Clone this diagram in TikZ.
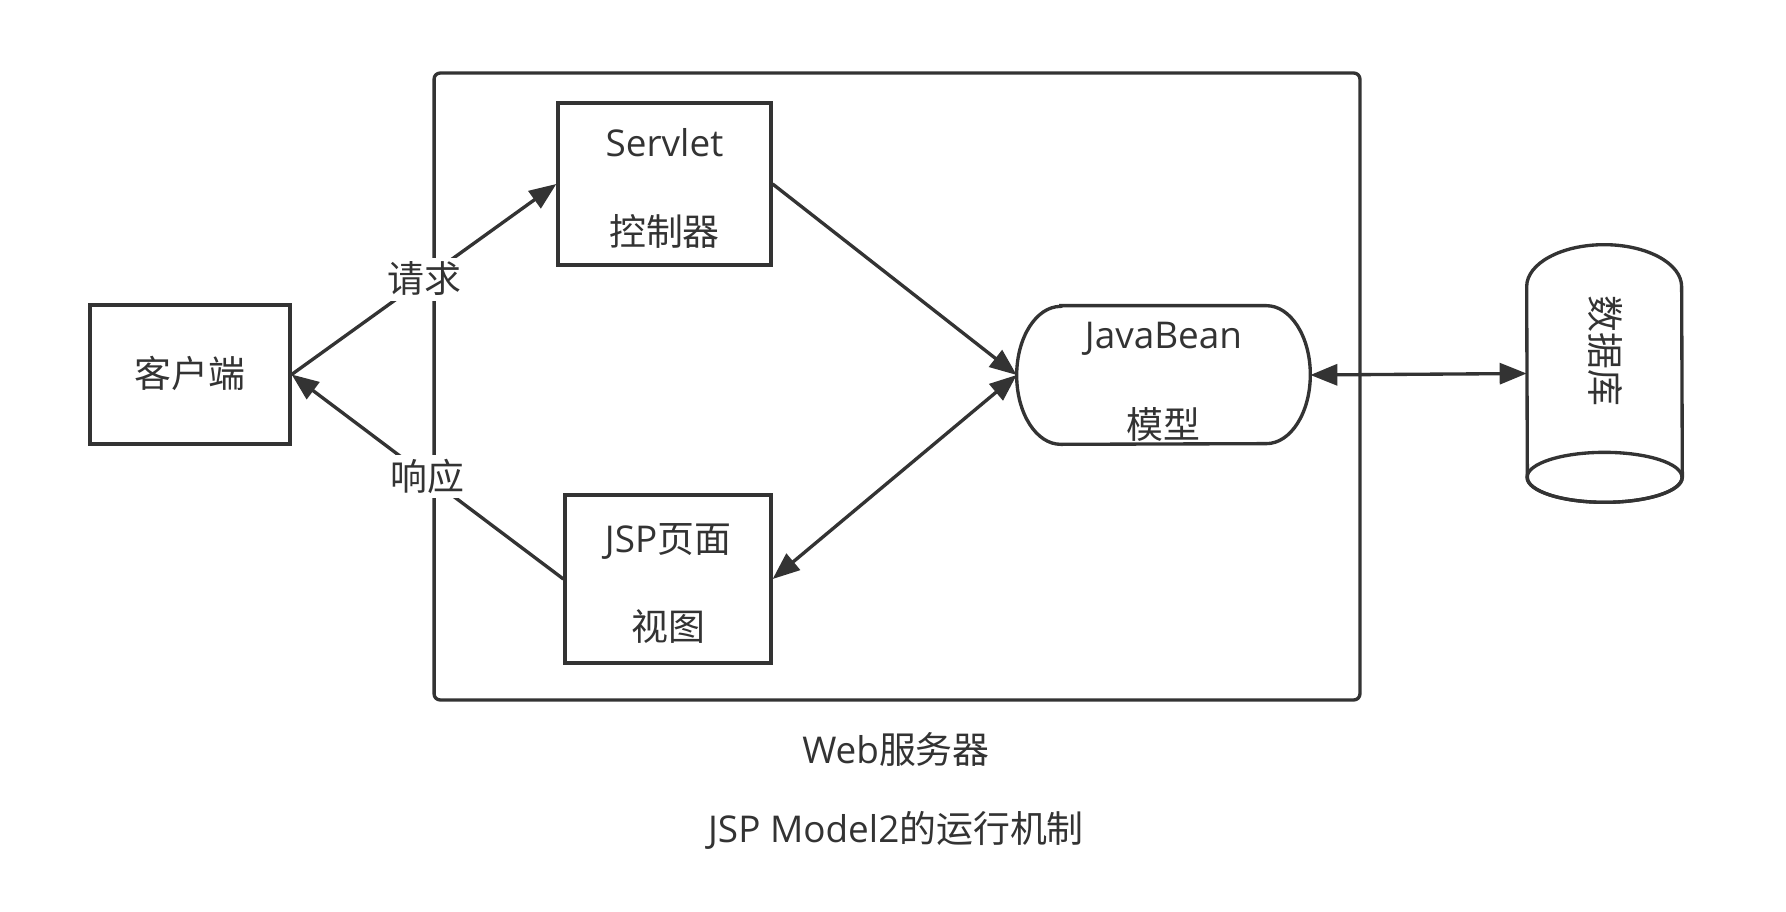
\documentclass[tikz,border=0pt]{standalone}
\usepackage{fontspec}
\setmainfont{Open Sans}
\newfontfamily\cjk{Noto Sans CJK SC}
\usetikzlibrary{positioning, arrows.meta}

\definecolor{linea}{HTML}{333333}

\tikzset{
    box/.style={draw=linea, line width=1.9pt, fill=white, inner sep=0pt},
    txt/.style={text=linea, font=\fontsize{21}{25}\selectfont, inner sep=0pt, text height=0.7cm, text depth=0.16cm},
    etichetta/.style={txt, fill=white, inner xsep=2pt},
    freccia/.style={draw=linea, line width=1.9pt, >={Triangle[length=0.54cm, width=0.42cm]}, ->}
}

\begin{document}
\begin{tikzpicture}[x=0.02cm, y=-0.02cm]
    \useasboundingbox[fill=white] (0,0) rectangle (1786,912);

    % contenitore del server
    \node [box, rounded corners=0.12cm, minimum width=18.52cm, minimum height=12.54cm] (web) at (897,386.5) {};

    \node [box, txt, minimum width=4cm, minimum height=2.78cm] (client) at (190,374.5) {\cjk 客户端};

    \node [box, minimum width=4.26cm, minimum height=3.24cm] (srv) at (664.5,184) {};
    \node [txt] (srvA) at (664.5,143) {Servlet};
    \node [txt, below=0.9cm of srvA] (srvB) {\cjk 控制器};

    \node [box, minimum width=4.12cm, minimum height=3.36cm] (jsp) at (668,579) {};
    \node [txt] (jspA) at (668,539) {JSP{\cjk 页面}};
    \node [txt, below=0.88cm of jspA] (jspB) {\cjk 视图};

    % JavaBean con i lati curvi
    \node [minimum width=5.86cm, minimum height=2.76cm, inner sep=0pt] (bean) at (1163.5,375) {};
    \draw [draw=linea, line width=1.9pt, fill=white]
        ([xshift=0.88cm]bean.north west) -- ([xshift=-0.88cm]bean.north east)
        arc[start angle=90, end angle=-90, x radius=0.88cm, y radius=1.38cm]
        -- ([xshift=0.88cm]bean.south west)
        arc[start angle=270, end angle=90, x radius=0.88cm, y radius=1.38cm] -- cycle;
    \node [txt] (beanA) at (1163.5,335) {JavaBean};
    \node [txt, below=0.92cm of beanA] (beanB) {\cjk 模型};

    % cilindro del database
    \node [minimum width=3.1cm, minimum height=5.14cm, inner sep=0pt] (db) at (1604.5,373.5) {};
    \draw [draw=linea, line width=1.9pt, fill=white]
        ([yshift=-0.84cm]db.north west)
        arc[start angle=180, end angle=0, x radius=1.55cm, y radius=0.84cm]
        -- ([yshift=0.5cm]db.south east)
        arc[start angle=0, end angle=-180, x radius=1.55cm, y radius=0.5cm] -- cycle;
    \draw [draw=linea, line width=1.9pt] ([yshift=0.5cm]db.south) ellipse[x radius=1.55cm, y radius=0.5cm];
    \node [txt, rotate=-90] (dbA) at (1604.5,351) {\cjk 数据库};

    \draw [freccia] (client.east) -- node[etichetta] {\cjk 请求} (srv.west);
    \draw [freccia] (jsp.west) -- node[etichetta] {\cjk 响应} (client.east);
    \draw [freccia] (srv.east) -- (bean.west);
    \draw [freccia, <->] (jsp.east) -- (bean.west);
    \draw [freccia, <->] (bean.east) -- (db.west);

    \node [txt] (webA) at (896,750) {Web{\cjk 服务器}};
    \node [txt, below=0.7cm of webA] (titolo) {JSP Model2{\cjk 的运行机制}};
\end{tikzpicture}
\end{document}
